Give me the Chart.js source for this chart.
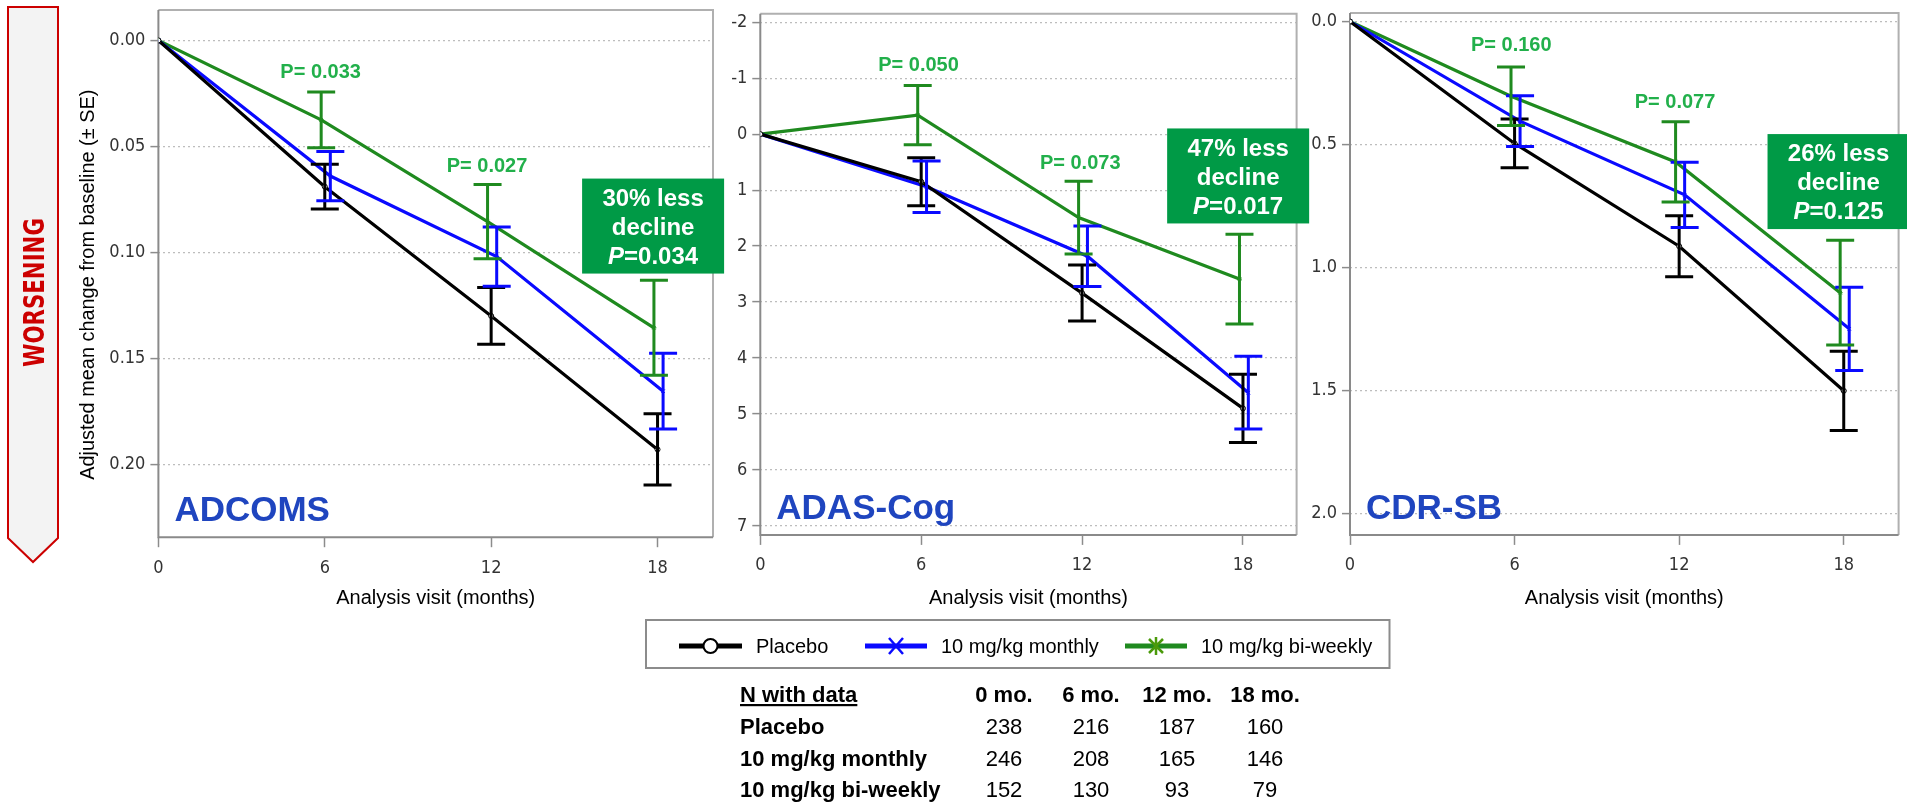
<!DOCTYPE html>
<html>
<head>
<meta charset="utf-8">
<script src="https://cdn.jsdelivr.net/npm/chart.js@4.4.1/dist/chart.umd.min.js"></script>
<style>
  html, body { margin: 0; padding: 0; background: #fff; }
  body { width: 1907px; height: 802px; position: relative; overflow: hidden; font-family: 'Liberation Sans', Arial, sans-serif; }
  .panel { position: absolute; }
  #overlay { position: absolute; left: 0; top: 0; width: 1907px; height: 802px; pointer-events: none; }
</style>
</head>
<body>
<div class="panel" id="p1"><canvas id="c1"></canvas></div>
<div class="panel" id="p2"><canvas id="c2"></canvas></div>
<div class="panel" id="p3"><canvas id="c3"></canvas></div>
<svg id="overlay" xmlns="http://www.w3.org/2000/svg" width="1907" height="802"></svg>

<script>
// ---- data ----
const months = [0, 6, 12, 18];
const monthTicks = [0, 6, 12, 18];
const groupNames = ['Placebo', '10 mg/kg monthly', '10 mg/kg bi-weekly'];

// ADCOMS (adjusted mean change, ± SE)
const adcomsPlacebo = [0, 0.069, 0.130, 0.193];
const adcomsPlaceboSE = [0, 0.0106, 0.0134, 0.0168];
const adcomsMonthly = [0, 0.064, 0.102, 0.1655];
const adcomsMonthlySE = [0, 0.0116, 0.014, 0.0179];
const adcomsBiweekly = [0, 0.0375, 0.0855, 0.1356];
const adcomsBiweeklySE = [0, 0.0131, 0.0175, 0.0224];
const adcomsTicks = [0, 0.05, 0.10, 0.15, 0.20];

// ADAS-Cog
const adasPlacebo = [0, 0.85, 2.84, 4.90];
const adasPlaceboSE = [0, 0.43, 0.50, 0.61];
const adasMonthly = [0, 0.94, 2.18, 4.62];
const adasMonthlySE = [0, 0.46, 0.54, 0.65];
const adasBiweekly = [0, -0.34, 1.49, 2.59];
const adasBiweeklySE = [0, 0.53, 0.65, 0.80];
const adasTicks = [-2, -1, 0, 1, 2, 3, 4, 5, 6, 7];

// CDR-SB
const cdrPlacebo = [0, 0.496, 0.914, 1.502];
const cdrPlaceboSE = [0, 0.099, 0.124, 0.161];
const cdrMonthly = [0, 0.405, 0.705, 1.25];
const cdrMonthlySE = [0, 0.103, 0.133, 0.169];
const cdrBiweekly = [0, 0.304, 0.571, 1.103];
const cdrBiweeklySE = [0, 0.119, 0.163, 0.213];
const cdrTicks = [0, 0.5, 1.0, 1.5, 2.0];

// N with data table
const visitHeaders = ['0 mo.', '6 mo.', '12 mo.', '18 mo.'];
const nPlacebo = [238, 216, 187, 160];
const nMonthly = [246, 208, 165, 146];
const nBiweekly = [152, 130, 93, 79];

// ---- style ----
const SANS = "'Liberation Sans', Arial, sans-serif";
const NARROW = "'Liberation Sans Narrow', 'DejaVu Sans Condensed', 'Liberation Sans', sans-serif";
const COLORS = ['#000000', '#0a0aff', '#1f8a1f'];
const POINT_STYLES = ['circle', 'crossRot', 'star'];
const DODGE = [0, 0.2, -0.13]; // small horizontal offset so bars don't overlap
const P_GREEN = '#22b04b';
const BOX_GREEN = '#009a46';
const TITLE_BLUE = '#1f45bf';

const panels = [
  {
    id: 'p1', canvas: 'c1', title: 'ADCOMS',
    box: { left: 158.4, top: 10.1, right: 713, bottom: 537.2 },
    yMin: -0.0143, yMax: 0.2344, yTicks: adcomsTicks, dec: 2,
    mean: [adcomsPlacebo, adcomsMonthly, adcomsBiweekly],
    se: [adcomsPlaceboSE, adcomsMonthlySE, adcomsBiweeklySE],
    pLabels: [{ x: 5.85, y: 0.0149, text: 'P= 0.033' }, { x: 11.85, y: 0.0593, text: 'P= 0.027' }],
    note: { x: 17.84, y: 0.0876, head: '30% less', p: '=0.034' }
  },
  {
    id: 'p2', canvas: 'c2', title: 'ADAS-Cog',
    box: { left: 760.3, top: 13.8, right: 1296.6, bottom: 534.9 },
    yMin: -2.15, yMax: 7.16, yTicks: adasTicks, dec: 0,
    mean: [adasPlacebo, adasMonthly, adasBiweekly],
    se: [adasPlaceboSE, adasMonthlySE, adasBiweeklySE],
    pLabels: [{ x: 5.90, y: -1.22, text: 'P= 0.050' }, { x: 11.93, y: 0.52, text: 'P= 0.073' }],
    note: { x: 17.82, y: 0.747, head: '47% less', p: '=0.017' }
  },
  {
    id: 'p3', canvas: 'c3', title: 'CDR-SB',
    box: { left: 1350, top: 12.9, right: 1898.6, bottom: 534.9 },
    yMin: -0.035, yMax: 2.088, yTicks: cdrTicks, dec: 1,
    mean: [cdrPlacebo, cdrMonthly, cdrBiweekly],
    se: [cdrPlaceboSE, cdrMonthlySE, cdrBiweeklySE],
    pLabels: [{ x: 5.88, y: 0.099, text: 'P= 0.160' }, { x: 11.85, y: 0.33, text: 'P= 0.077' }],
    note: { x: 17.81, y: 0.651, head: '26% less', p: '=0.125' }
  }
];

// plot frame: grey box round the chart area
const framePlugin = {
  id: 'frame',
  beforeDatasetsDraw(chart) {
    const { ctx, chartArea: a } = chart;
    ctx.save();
    ctx.lineWidth = 2;
    ctx.strokeStyle = '#b0b0b0';
    ctx.beginPath();
    ctx.moveTo(a.left, a.top); ctx.lineTo(a.right, a.top); ctx.lineTo(a.right, a.bottom);
    ctx.stroke();
    ctx.strokeStyle = '#8a8a8a';
    ctx.beginPath();
    ctx.moveTo(a.left, a.top); ctx.lineTo(a.left, a.bottom); ctx.lineTo(a.right, a.bottom);
    ctx.stroke();
    ctx.restore();
  }
};

// ± SE error bars, read from dataset.se
const errorBarPlugin = {
  id: 'errorBars',
  afterDatasetsDraw(chart) {
    const { ctx } = chart;
    const xs = chart.scales.x, ys = chart.scales.y;
    ctx.save();
    chart.data.datasets.forEach((ds) => {
      ctx.strokeStyle = ds.borderColor;
      ctx.lineWidth = 3;
      ds.data.forEach((p, j) => {
        const se = ds.se[j];
        if (!se) return;
        const x = xs.getPixelForValue(p.x);
        const y1 = ys.getPixelForValue(p.y - se);
        const y2 = ys.getPixelForValue(p.y + se);
        ctx.beginPath();
        ctx.moveTo(x, y1); ctx.lineTo(x, y2);
        ctx.moveTo(x - 14, y1); ctx.lineTo(x + 14, y1);
        ctx.moveTo(x - 14, y2); ctx.lineTo(x + 14, y2);
        ctx.stroke();
      });
    });
    ctx.restore();
  }
};

function notesPlugin(cfg) {
  return {
    id: 'notes',
    afterDatasetsDraw(chart) {
      const { ctx, chartArea: a } = chart;
      const xs = chart.scales.x, ys = chart.scales.y;
      ctx.save();
      // panel name
      ctx.font = 'bold 35px ' + SANS;
      ctx.fillStyle = TITLE_BLUE;
      ctx.textAlign = 'left';
      ctx.textBaseline = 'alphabetic';
      ctx.fillText(cfg.title, a.left + 16, a.bottom - 16);

      // p values
      ctx.font = 'bold 20px ' + SANS;
      ctx.fillStyle = P_GREEN;
      ctx.textAlign = 'center';
      ctx.textBaseline = 'middle';
      cfg.pLabels.forEach(l => ctx.fillText(l.text, xs.getPixelForValue(l.x), ys.getPixelForValue(l.y)));

      // green box at 18 months
      const cx = xs.getPixelForValue(cfg.note.x);
      const cy = ys.getPixelForValue(cfg.note.y);
      ctx.fillStyle = BOX_GREEN;
      ctx.fillRect(cx - 71, cy - 47.5, 142, 95);
      ctx.fillStyle = '#fff';
      ctx.font = 'bold 24px ' + SANS;
      ctx.fillText(cfg.note.head, cx, cy - 27);
      ctx.fillText('decline', cx, cy + 2);
      const pFont = 'italic bold 24px ' + SANS;
      const restFont = 'bold 24px ' + SANS;
      ctx.font = pFont; const wP = ctx.measureText('P').width;
      ctx.font = restFont; const wR = ctx.measureText(cfg.note.p).width;
      const x0 = cx - (wP + wR) / 2;
      ctx.textAlign = 'left';
      ctx.font = pFont; ctx.fillText('P', x0, cy + 31);
      ctx.font = restFont; ctx.fillText(cfg.note.p, x0 + wP, cy + 31);
      ctx.restore();
    }
  };
}

function makePanel(cfg) {
  const yW = 60, padR = 30, canvasTop = -20, canvasBottom = 612;
  const left = Math.round(cfg.box.left - 100);
  const padL = cfg.box.left - left - yW;
  const wrap = document.getElementById(cfg.id);
  const w = Math.round(cfg.box.right + padR - left);
  wrap.style.left = left + 'px';
  wrap.style.top = canvasTop + 'px';
  wrap.style.width = w + 'px';
  wrap.style.height = (canvasBottom - canvasTop) + 'px';
  const padRight = left + w - cfg.box.right;
  const xH = 610 - cfg.box.bottom;
  const tickFont = { family: NARROW, size: 18 };

  const datasets = cfg.mean.map((vals, i) => ({
    label: groupNames[i],
    data: months.map((m, j) => ({ x: m === 0 ? m : m + DODGE[i], y: vals[j] })),
    se: cfg.se[i],
    borderColor: COLORS[i],
    backgroundColor: i === 0 ? '#ffffff' : COLORS[i],
    pointBorderColor: COLORS[i],
    pointBackgroundColor: i === 0 ? '#ffffff' : COLORS[i],
    borderWidth: 3.2,
    pointStyle: POINT_STYLES[i],
    pointRadius: 2.5,
    pointBorderWidth: 1,
    tension: 0
  }));

  new Chart(document.getElementById(cfg.canvas), {
    type: 'line',
    data: { datasets },
    options: {
      responsive: true,
      maintainAspectRatio: false,
      animation: false,
      layout: { padding: { left: padL, right: padRight, top: cfg.box.top - canvasTop, bottom: 2 } },
      plugins: { legend: { display: false }, tooltip: { enabled: false } },
      scales: {
        x: {
          type: 'linear', min: 0, max: 20,
          afterBuildTicks: s => { s.ticks = monthTicks.map(v => ({ value: v })); },
          afterFit: s => { s.height = xH; },
          grid: { drawOnChartArea: false, drawTicks: true, tickLength: 10, tickColor: '#8c8c8c', tickWidth: 1.5 },
          border: { display: false },
          ticks: { font: tickFont, color: '#333', padding: 10, maxRotation: 0 },
          title: { display: true, text: 'Analysis visit (months)', font: { family: SANS, size: 20 }, color: '#000', padding: 0 }
        },
        y: {
          reverse: true, min: cfg.yMin, max: cfg.yMax,
          afterBuildTicks: s => { s.ticks = cfg.yTicks.map(v => ({ value: v })); },
          afterFit: s => { s.width = yW; },
          grid: { color: '#bdbdbd', lineWidth: 1.2, tickLength: 8, tickColor: '#8c8c8c', tickWidth: 1.5, tickBorderDash: [] },
          border: { display: false, dash: [2, 3] },
          ticks: { font: tickFont, color: '#333', padding: 5, callback: v => Number(v).toFixed(cfg.dec) }
        }
      }
    },
    plugins: [framePlugin, errorBarPlugin, notesPlugin(cfg)]
  });
}

panels.forEach(makePanel);

// ---- side arrow, y title, legend and N table (SVG text) ----
const NS = 'http://www.w3.org/2000/svg';
const svg = document.getElementById('overlay');
function el(tag, attrs, text) {
  const e = document.createElementNS(NS, tag);
  for (const k in attrs) e.setAttribute(k, attrs[k]);
  if (text !== undefined) e.textContent = text;
  svg.appendChild(e);
  return e;
}

el('polygon', { points: '8,7 58,7 58,538 33,562 8,538', fill: '#f3f3f3', stroke: '#cc0000', 'stroke-width': 2 });
el('text', { transform: 'translate(43.6,292.6) rotate(-90)', 'text-anchor': 'middle', 'font-family': NARROW,
  'font-weight': 'bold', 'font-size': 28, fill: '#cc0000', textLength: 149, lengthAdjust: 'spacingAndGlyphs' }, 'WORSENING');
el('text', { transform: 'translate(94,284.7) rotate(-90)', 'text-anchor': 'middle', 'font-family': SANS,
  'font-size': 20, fill: '#000', textLength: 390, lengthAdjust: 'spacingAndGlyphs' }, 'Adjusted mean change from baseline (\u00b1 SE)');

// legend
el('rect', { x: 646, y: 620, width: 743.5, height: 48, fill: 'none', stroke: '#8c8c8c', 'stroke-width': 2 });
const legendItems = [
  { x1: 679, x2: 742, tx: 756 },
  { x1: 865, x2: 927, tx: 941 },
  { x1: 1125, x2: 1187, tx: 1201 }
];
legendItems.forEach((it, i) => {
  const ly = 646, mx = (it.x1 + it.x2) / 2;
  el('line', { x1: it.x1, y1: ly, x2: it.x2, y2: ly, stroke: COLORS[i], 'stroke-width': 5 });
  if (i === 0) {
    el('circle', { cx: mx, cy: ly, r: 7, fill: '#fff', stroke: COLORS[i], 'stroke-width': 2 });
  } else if (i === 1) {
    el('path', { d: `M${mx - 7},${ly - 8} L${mx + 7},${ly + 8} M${mx + 7},${ly - 8} L${mx - 7},${ly + 8}`, stroke: COLORS[i], 'stroke-width': 2.5 });
  } else {
    el('path', { d: `M${mx},${ly - 9} L${mx},${ly + 9} M${mx - 7},${ly - 7} L${mx + 7},${ly + 7} M${mx + 7},${ly - 7} L${mx - 7},${ly + 7}`, stroke: '#4a9a0a', 'stroke-width': 2.5 });
  }
  el('text', { x: it.tx, y: ly + 7.3, 'font-family': SANS, 'font-size': 20, fill: '#000' }, groupNames[i]);
});

// N with data table
const colX = [1004, 1091, 1177, 1265];
const rowY = [702, 734, 766, 797];
el('text', { x: 740, y: rowY[0], 'font-family': SANS, 'font-size': 22, 'font-weight': 'bold', 'text-decoration': 'underline' }, 'N with data');
visitHeaders.forEach((h, j) => el('text', { x: colX[j], y: rowY[0], 'text-anchor': 'middle', 'font-family': SANS, 'font-size': 22, 'font-weight': 'bold' }, h));
[nPlacebo, nMonthly, nBiweekly].forEach((row, i) => {
  el('text', { x: 740, y: rowY[i + 1], 'font-family': SANS, 'font-size': 22, 'font-weight': 'bold' }, groupNames[i]);
  row.forEach((n, j) => el('text', { x: colX[j], y: rowY[i + 1], 'text-anchor': 'middle', 'font-family': SANS, 'font-size': 22 }, String(n)));
});
</script>
</body>
</html>
